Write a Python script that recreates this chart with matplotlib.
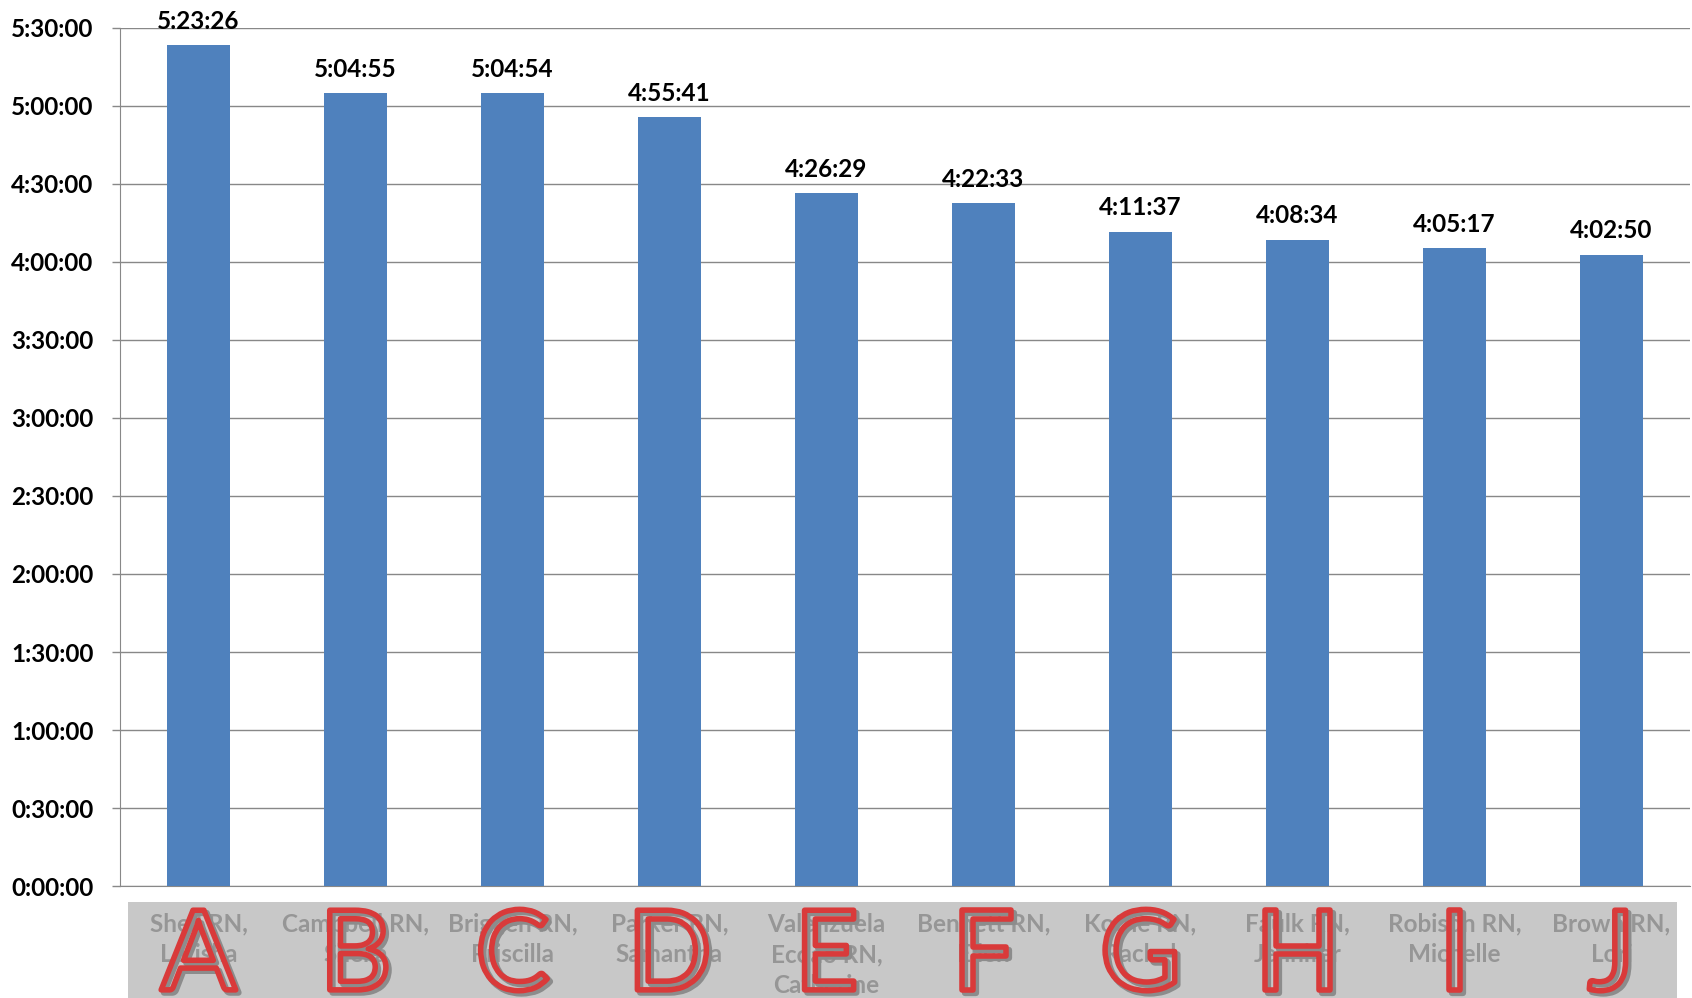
import matplotlib
matplotlib.use("Agg")
from matplotlib import pyplot as plt
from matplotlib import patheffects as pe
from matplotlib.patches import Rectangle
from matplotlib.ticker import FuncFormatter, MultipleLocator

plt.rcParams['font.family'] = ['Lato', 'DejaVu Sans']

# data
letters = ["A", "B", "C", "D", "E", "F", "G", "H", "I", "J"]
names = ["Shell RN,\nLetisha", "Campbell RN,\nSheila", "Briggen RN,\nPriscilla",
         "Parker RN,\nSamantha", "Valenzuela\nEcoao RN,\nCatherine", "Bennett RN,\nEllen",
         "Kothe RN,\nRachel", "Faulk RN,\nJennifer", "Robison RN,\nMichelle", "Brown RN,\nLori"]
durations = ["5:23:26", "5:04:55", "5:04:54", "4:55:41", "4:26:29",
             "4:22:33", "4:11:37", "4:08:34", "4:05:17", "4:02:50"]


def to_sec(s):
    h, m, sec = s.split(":")
    return int(h) * 3600 + int(m) * 60 + int(sec)


def fmt(v, pos=None):
    v = int(round(v))
    return "%d:%02d:%02d" % (v // 3600, (v % 3600) // 60, v % 60)


secs = [to_sec(d) for d in durations]
x = range(len(letters))

fig = plt.figure(figsize=(16.92, 9.98), dpi=100)
ax = fig.add_axes([0.0709, 0.1122, 0.9279, 0.8598])

# gray strip behind the names
fig.patches.append(Rectangle((128 / 1692, 0), (1677 - 128) / 1692, 96 / 998,
                             transform=fig.transFigure, facecolor="#c8c8c8",
                             edgecolor="none", zorder=-5))

ax.bar(x, secs, width=0.4, color="#4f81bd", zorder=3)
for i, s in enumerate(secs):
    ax.annotate(durations[i], (i, s), xytext=(0, 9), textcoords="offset points",
                ha="center", va="bottom", fontsize=17.5, fontweight="bold")

ax.set_xlim(-0.5, len(letters) - 0.5)
ax.set_ylim(0, 19800)
ax.yaxis.set_major_locator(MultipleLocator(1800))
ax.yaxis.set_major_formatter(FuncFormatter(fmt))
ax.grid(axis="y", color="#888888", linewidth=1, zorder=0)
ax.set_xticks([])
for lab in ax.get_yticklabels():
    lab.set_fontweight("bold")
ax.tick_params(axis="y", labelsize=17.5, length=6, color="#888888", width=1, pad=13)
for side in ["top", "right"]:
    ax.spines[side].set_visible(False)
ax.spines["left"].set_color("#888888")
ax.spines["bottom"].set_color("#888888")

tr = ax.get_xaxis_transform()
for i in x:
    ax.text(i, -0.031, names[i], transform=tr, ha="center", va="top",
            fontsize=17.5, fontweight="bold", color="#969696", linespacing=1.4,
            clip_on=False, zorder=5)
    ax.text(i, -0.121, letters[i], transform=tr, ha="center", va="baseline",
            fontsize=80, fontweight="normal", color="none", clip_on=False, zorder=6,
            path_effects=[pe.Stroke(linewidth=4.5, foreground="#8c8c8c", offset=(2, -2)),
                          pe.Stroke(linewidth=4, foreground="#d93a3a")])

fig.savefig("out.png", dpi=100)
